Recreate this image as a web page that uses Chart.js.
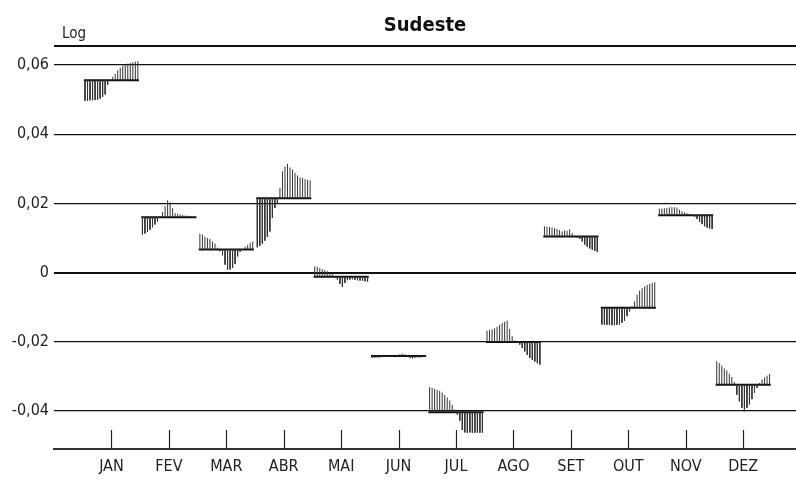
<!DOCTYPE html>
<html lang="pt">
<head>
<meta charset="UTF-8">
<title>Sudeste</title>
<script src="https://cdn.jsdelivr.net/npm/chart.js"></script>
<style>
  html, body { margin: 0; padding: 0; background: #fff; }
  #wrap { width: 796px; height: 482px; }
</style>
</head>
<body>
<div id="wrap"><canvas id="chart"></canvas></div>
<script>
const months = ['JAN', 'FEV', 'MAR', 'ABR', 'MAI', 'JUN', 'JUL', 'AGO', 'SET', 'OUT', 'NOV', 'DEZ'];
const yTicks = [0.06, 0.04, 0.02, 0, -0.02, -0.04];

// monthly mean (horizontal bar of each sub-series)
const monthMeans = [0.0556, 0.0160, 0.0067, 0.0215, -0.0012, -0.0241, -0.0404, -0.0201, 0.0104, -0.0102, 0.0166, -0.0324];

// yearly values for each month
const jan = [0.0497, 0.0497, 0.0498, 0.0498, 0.0499, 0.0500, 0.0503, 0.0508, 0.0515, 0.0543, 0.0556, 0.0566, 0.0574, 0.0585, 0.0592, 0.0598, 0.0601, 0.0604, 0.0606, 0.0608, 0.0610, 0.0611];
const fev = [0.0110, 0.0113, 0.0118, 0.0124, 0.0131, 0.0139, 0.0147, 0.0158, 0.0175, 0.0192, 0.0209, 0.0203, 0.0186, 0.0172, 0.0170, 0.0168, 0.0167, 0.0165, 0.0164, 0.0163, 0.0162, 0.0161];
const mar = [0.0112, 0.0110, 0.0104, 0.0100, 0.0097, 0.0090, 0.0084, 0.0072, 0.0062, 0.0050, 0.0023, 0.0009, 0.0009, 0.0014, 0.0025, 0.0047, 0.0060, 0.0068, 0.0075, 0.0080, 0.0086, 0.0090];
const abr = [0.0073, 0.0077, 0.0084, 0.0092, 0.0103, 0.0119, 0.0158, 0.0187, 0.0201, 0.0245, 0.0293, 0.0307, 0.0314, 0.0304, 0.0298, 0.0288, 0.0281, 0.0275, 0.0273, 0.0270, 0.0268, 0.0266];
const mai = [0.0018, 0.0017, 0.0013, 0.0010, 0.0007, 0.0004, 0.0001, -0.0005, -0.0012, -0.0020, -0.0033, -0.0041, -0.0030, -0.0022, -0.0020, -0.0019, -0.0021, -0.0022, -0.0023, -0.0024, -0.0025, -0.0026];
const jun = [-0.0246, -0.0246, -0.0245, -0.0245, -0.0244, -0.0244, -0.0243, -0.0243, -0.0242, -0.0240, -0.0238, -0.0236, -0.0234, -0.0236, -0.0239, -0.0247, -0.0248, -0.0246, -0.0245, -0.0245, -0.0244, -0.0244];
const jul = [-0.0331, -0.0333, -0.0336, -0.0339, -0.0342, -0.0347, -0.0354, -0.0361, -0.0370, -0.0382, -0.0396, -0.0410, -0.0428, -0.0455, -0.0462, -0.0463, -0.0462, -0.0463, -0.0463, -0.0462, -0.0463, -0.0463];
const ago = [-0.0168, -0.0166, -0.0164, -0.0161, -0.0157, -0.0151, -0.0146, -0.0142, -0.0139, -0.0163, -0.0184, -0.0196, -0.0200, -0.0208, -0.0218, -0.0228, -0.0238, -0.0247, -0.0252, -0.0257, -0.0262, -0.0266];
const set = [0.0134, 0.0133, 0.0132, 0.0130, 0.0128, 0.0126, 0.0123, 0.0119, 0.0122, 0.0121, 0.0125, 0.0114, 0.0107, 0.0101, 0.0097, 0.0090, 0.0081, 0.0075, 0.0070, 0.0066, 0.0063, 0.0060];
const out = [-0.0150, -0.0150, -0.0151, -0.0151, -0.0152, -0.0152, -0.0151, -0.0150, -0.0145, -0.0139, -0.0126, -0.0112, -0.0097, -0.0083, -0.0064, -0.0052, -0.0045, -0.0040, -0.0036, -0.0033, -0.0030, -0.0028];
const nov = [0.0185, 0.0185, 0.0186, 0.0187, 0.0188, 0.0189, 0.0189, 0.0188, 0.0182, 0.0177, 0.0174, 0.0172, 0.0170, 0.0168, 0.0162, 0.0155, 0.0147, 0.0140, 0.0134, 0.0130, 0.0128, 0.0126];
const dez = [-0.0256, -0.0262, -0.0269, -0.0277, -0.0283, -0.0292, -0.0302, -0.0316, -0.0353, -0.0372, -0.0391, -0.0401, -0.0391, -0.0381, -0.0366, -0.0348, -0.0333, -0.0319, -0.0309, -0.0303, -0.0298, -0.0293];

const monthValues = [jan, fev, mar, abr, mai, jun, jul, ago, set, out, nov, dez];

// build the sub-series: a vertical stripe from the mean to each value, plus the mean bar
const stripes = [];
const meanLines = [];
monthValues.forEach((vals, m) => {
  const c = m + 1;
  const n = vals.length;
  vals.forEach((v, j) => {
    const x = c - 0.46 + j * 0.92 / (n - 1);
    stripes.push({ x: x, y: monthMeans[m] }, { x: x, y: v }, { x: x, y: null });
  });
  meanLines.push({ x: c - 0.48, y: monthMeans[m] }, { x: c + 0.48, y: monthMeans[m] }, { x: c, y: null });
});

const fontFam = "'Liberation Sans Narrow', 'DejaVu Sans Condensed', 'Liberation Sans', sans-serif";

const framePlugin = {
  id: 'frame',
  afterDraw(chart) {
    const ctx = chart.ctx;
    const a = chart.chartArea;
    const xs = chart.scales.x;
    ctx.save();
    ctx.strokeStyle = '#111';
    ctx.lineWidth = 2;
    ctx.beginPath();
    ctx.moveTo(a.left, a.top);
    ctx.lineTo(a.right, a.top);
    ctx.stroke();
    // month tick marks pointing up from the axis
    ctx.lineWidth = 1.2;
    ctx.strokeStyle = '#222';
    months.forEach((_, i) => {
      const px = Math.round(xs.getPixelForValue(i + 1)) + 0.5;
      ctx.beginPath();
      ctx.moveTo(px, a.bottom - 19);
      ctx.lineTo(px, a.bottom);
      ctx.stroke();
    });
    ctx.fillStyle = '#222';
    ctx.font = '15px ' + fontFam;
    ctx.textAlign = 'left';
    ctx.textBaseline = 'alphabetic';
    ctx.fillText('Log', a.left + 8, a.top - 8);
    ctx.restore();
  }
};

const ctx = document.getElementById('chart').getContext('2d');
new Chart(ctx, {
  type: 'line',
  data: {
    datasets: [
      {
        label: 'anos',
        data: stripes,
        borderColor: '#333',
        borderWidth: 1,
        pointRadius: 0,
        spanGaps: false
      },
      {
        label: 'média',
        data: meanLines,
        borderColor: '#111',
        borderWidth: 2,
        pointRadius: 0,
        spanGaps: false
      }
    ]
  },
  plugins: [framePlugin],
  options: {
    responsive: true,
    maintainAspectRatio: false,
    animation: false,
    layout: { padding: { left: 0, right: 0, top: 0, bottom: 0 } },
    plugins: {
      legend: { display: false },
      tooltip: { enabled: false },
      title: {
        display: true,
        text: 'Sudeste',
        fullSize: false,
        color: '#111',
        font: { family: fontFam, size: 20, weight: 'bold' },
        padding: { top: 14, bottom: 8 }
      }
    },
    scales: {
      x: {
        type: 'linear',
        min: 0,
        max: 12.92,
        afterBuildTicks: (s) => { s.ticks = months.map((_, i) => ({ value: i + 1 })); },
        afterFit: (s) => { s.height = 33; },
        grid: { display: false, drawTicks: false },
        border: { display: true, color: '#333', width: 2 },
        ticks: {
          autoSkip: false,
          maxRotation: 0,
          padding: 8,
          color: '#222',
          font: { family: fontFam, size: 16 },
          callback: (v) => months[v - 1]
        }
      },
      y: {
        min: -0.051,
        max: 0.0655,
        afterBuildTicks: (s) => { s.ticks = yTicks.map(v => ({ value: v })); },
        afterFit: (s) => { s.width = 54; },
        grid: {
          color: '#111',
          lineWidth: (c) => (c.tick && c.tick.value === 0 ? 2 : 1.3),
          drawTicks: false
        },
        border: { display: false },
        ticks: {
          padding: 5,
          color: '#222',
          font: { family: fontFam, size: 16 },
          callback: (v) => (v === 0 ? '0' : v.toFixed(2).replace('.', ','))
        }
      }
    }
  }
});
</script>
</body>
</html>
